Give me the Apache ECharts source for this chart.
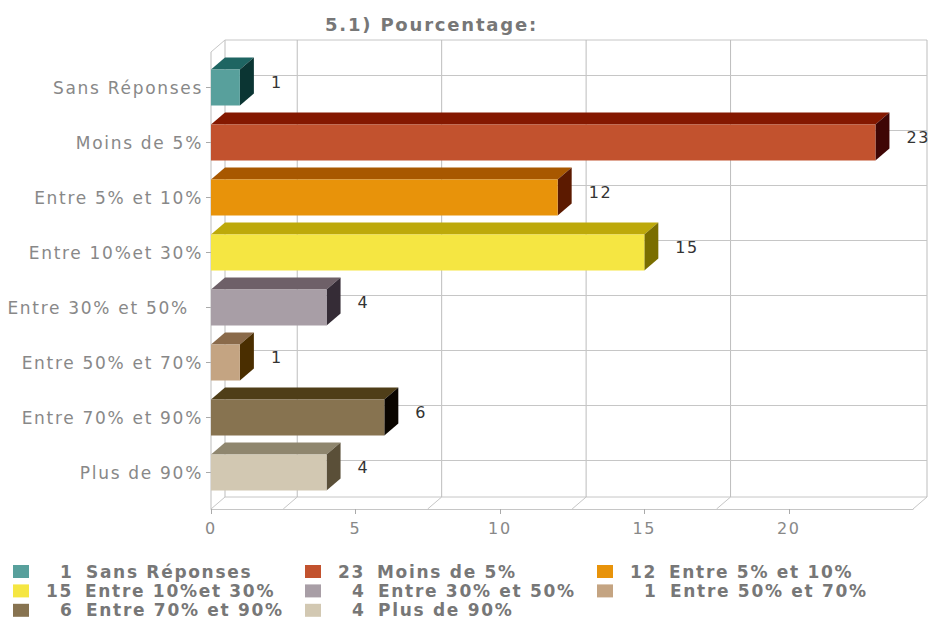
<!DOCTYPE html>
<html>
<head>
<meta charset="utf-8">
<style>html,body{margin:0;padding:0;background:#fff}#c{width:930px;height:619px}#c svg text{letter-spacing:0.1em}</style>
<script src="https://cdn.jsdelivr.net/npm/echarts@6/dist/echarts.min.js"></script>
</head>
<body>
<div id="c"></div>
<script>
const titleText = '5.1) Pourcentage:';
const categories = ['Sans Réponses','Moins de 5%','Entre 5% et 10%','Entre 10%et 30%','Entre 30% et 50%','Entre 50% et 70%','Entre 70% et 90%','Plus de 90%'];
const axisNames = ['Sans Réponses','Moins de 5%','Entre 5% et 10%','Entre 10%et 30%','Entre 30% et 50%  ','Entre 50% et 70%','Entre 70% et 90%','Plus de 90%'];
const values = [1,23,12,15,4,1,6,4];
const frontColors = ['#58a09c','#c2522e','#e8930a','#f5e642','#a89ea6','#c4a482','#877350','#d2c8b2'];
const topColors = ['#1e6562','#841800','#a85800','#bda90a','#6e6068','#8a6a4a','#4f3e18','#8f866e'];
const sideColors = ['#0b3533','#3f0605','#5c1a00','#7a6e00','#352c36','#4a2e00','#0a0500','#5a4f38'];
const xTicks = [0,5,10,15,20];
const wallTicks = [0,2.5,7.5,12.5,17.5,24.3];
const axisMax = 24.3;
const legendColumns = [[0,3,6],[1,4,7],[2,5]];

const DX = 14, DY = 12, BAR_H = 36;
const line = (x1,y1,x2,y2,c) => ({type:'line',shape:{x1,y1,x2,y2},style:{stroke:c||'#c6c6c6',lineWidth:1},silent:true});

function renderWallV(params, api){
  const cs = params.coordSys;
  const x = api.coord([api.value(0),0])[0];
  const floor = cs.y+cs.height+9, top = cs.y-8;
  const kids = [line(x,floor,x+DX,floor-DY), line(x+DX,top-DY,x+DX,floor-DY,'#bdbdbd')];
  if(params.dataIndex===0){
    kids.push(line(x,top,x,floor,'#bdbdbd'));
    kids.push(line(x,top,x+DX,top-DY));
    kids.push(line(cs.x+DX,top-DY,cs.x+cs.width+DX,top-DY));
    kids.push(line(cs.x+DX,floor-DY,cs.x+cs.width+DX,floor-DY));
  }
  return {type:'group',children:kids};
}
function renderWallH(params, api){
  const cs = params.coordSys;
  const y = api.coord([0,api.value(0)])[1]-DY;
  return line(cs.x+DX,y,cs.x+cs.width+DX,y);
}
function renderBar(params, api){
  const i = api.value(1);
  const p = api.coord([api.value(0),i]);
  const x0 = api.coord([0,i])[0];
  const x1 = p[0], y0 = p[1]-BAR_H/2, y1 = p[1]+BAR_H/2;
  return {type:'group',children:[
    {type:'polygon',shape:{points:[[x0,y0],[x1,y0],[x1+DX,y0-DY],[x0+DX,y0-DY]]},style:{fill:topColors[i]}},
    {type:'polygon',shape:{points:[[x1,y0],[x1+DX,y0-DY],[x1+DX,y1-DY],[x1,y1]]},style:{fill:sideColors[i]}},
    {type:'rect',shape:{x:x0,y:y0,width:x1-x0,height:BAR_H},style:{fill:frontColors[i]}},
    {type:'text',style:{x:x1+31,y:p[1]-5,text:String(api.value(0)),fill:'#333',fontSize:16,fontFamily:'DejaVu Sans',align:'left',verticalAlign:'middle'}}
  ]};
}

const series = [
  {type:'custom',name:'_v',renderItem:renderWallV,data:wallTicks.map(v=>[v]),encode:{x:0},z:1,silent:true,clip:false},
  {type:'custom',name:'_h',renderItem:renderWallH,data:categories.map((c,i)=>[i]),encode:{y:0},z:1,silent:true,clip:false}
];
categories.forEach((c,i)=>{
  series.push({type:'custom',name:c,renderItem:renderBar,itemStyle:{color:frontColors[i]},
    data:[[values[i],i]],encode:{x:0,y:1},z:3,clip:false});
});

const colLeft = [13,305,597];
const legendText = {fontSize:17,fontWeight:'bold',fontFamily:'DejaVu Sans',color:'#777',lineHeight:13};
const legends = legendColumns.map((idx,k)=>({
  show:true,orient:'vertical',left:colLeft[k],top:563,height:56,padding:0,itemWidth:16,itemHeight:13,itemGap:2.4,
  icon:'rect',selectedMode:false,
  data:idx.map(i=>categories[i]),
  formatter:name=>{
    const v = String(values[categories.indexOf(name)]);
    return `{${v.length>1?'two':'one'}|${v}}{t|${name}}`;
  },
  textStyle:{rich:{
    one:Object.assign({width:14,align:'left',padding:[0,0,0,26]},legendText),
    two:Object.assign({width:27,align:'left',padding:[0,0,0,12]},legendText),
    t:Object.assign({align:'left',padding:[0,0,0,12]},legendText)
  }}
}));

const chart = echarts.init(document.getElementById('c'),null,{renderer:'svg'});
chart.setOption({
  animation:false,
  backgroundColor:'#fff',
  tooltip:{show:false},
  title:{text:titleText,left:325,top:15,padding:0,textStyle:{fontWeight:'bold',fontSize:18,fontFamily:'DejaVu Sans',color:'#777'}},
  legend:legends,
  grid:{left:211,right:17,top:60,bottom:119,containLabel:false},
  xAxis:{type:'value',min:0,max:axisMax,interval:5,offset:9,
    axisLine:{show:true,lineStyle:{color:'#c6c6c6'}},
    axisTick:{show:true,length:5,lineStyle:{color:'#aaa'},customValues:xTicks},
    axisLabel:{color:'#888',fontSize:16,fontFamily:'DejaVu Sans',margin:11,customValues:xTicks},
    splitLine:{show:false}},
  yAxis:{type:'category',inverse:true,data:axisNames,
    axisLine:{show:false},
    axisTick:{show:true,length:5,alignWithLabel:true,lineStyle:{color:'#aaa'}},
    axisLabel:{color:'#888',fontSize:17,fontFamily:'DejaVu Sans',margin:8,interval:0,padding:[3,0,0,0]},
    splitLine:{show:false}},
  series:series
});
</script>
</body>
</html>
